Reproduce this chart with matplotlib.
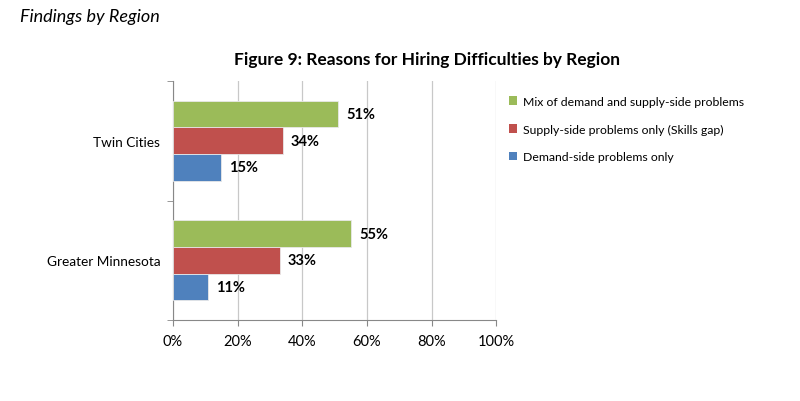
import matplotlib
matplotlib.use("Agg")
import matplotlib.pyplot as plt
from matplotlib.patches import Patch

plt.rcParams["font.family"] = ["Lato", "DejaVu Sans"]

regions = ["Greater Minnesota", "Twin Cities"]
series = ["Mix of demand and supply-side problems",
          "Supply-side problems only (Skills gap)",
          "Demand-side problems only"]
values = {
    series[0]: [55, 51],
    series[1]: [33, 34],
    series[2]: [11, 15],
}
colors = ["#9BBB59", "#C0504D", "#4F81BD"]
xticks = [0, 20, 40, 60, 80, 100]

fig = plt.figure(figsize=(8, 4.02), dpi=100)
ax = fig.add_axes([0.216, 0.2015, 0.4045, 0.5945])

h = 0.222
offsets = [h, 0, -h]  # green top, red middle, blue bottom
for s, c, off in zip(series, colors, offsets):
    ys = [i + off for i in range(len(regions))]
    ax.barh(ys, values[s], height=h, color=c, edgecolor="#e8e8e8", linewidth=0.6, zorder=3)
    for y, v in zip(ys, values[s]):
        ax.text(v + 2.5, y, f"{v}%", va="center", ha="left",
                fontsize=10.5, fontweight="bold", color="#000000")

ax.set_xlim(0, 100)
ax.set_ylim(-0.5, 1.5)
ax.set_xticks(xticks)
ax.set_xticklabels([f"{t}%" for t in xticks], fontsize=10.5)
ax.set_yticks(range(len(regions)))
ax.set_yticklabels(regions, fontsize=9.8)
ax.tick_params(axis="y", length=0, pad=9)
ax.set_yticks([-0.5, 0.5, 1.5], minor=True)
ax.tick_params(axis="y", which="minor", length=4, color="#888888")
ax.tick_params(axis="x", length=4, color="#888888", pad=6)
ax.grid(axis="x", color="#c8c8c8", linewidth=0.9, zorder=0)
for side in ("top", "right"):
    ax.spines[side].set_visible(False)
for side in ("left", "bottom"):
    ax.spines[side].set_color("#888888")

handles = [Patch(facecolor=c, label=s) for s, c in zip(series, colors)]
fig.legend(handles=handles, loc="upper left", bbox_to_anchor=(0.622, 0.786),
           frameon=False, fontsize=8.8, handlelength=0.7, handleheight=0.7,
           handletextpad=0.5, labelspacing=1.35)

fig.text(0.534, 0.85, "Figure 9: Reasons for Hiring Difficulties by Region",
         ha="center", va="center", fontsize=12.5, fontweight="bold")
fig.text(0.025, 0.957, "Findings by Region", ha="left", va="center",
         fontsize=13, fontstyle="italic")

fig.savefig("out.png", dpi=100)
